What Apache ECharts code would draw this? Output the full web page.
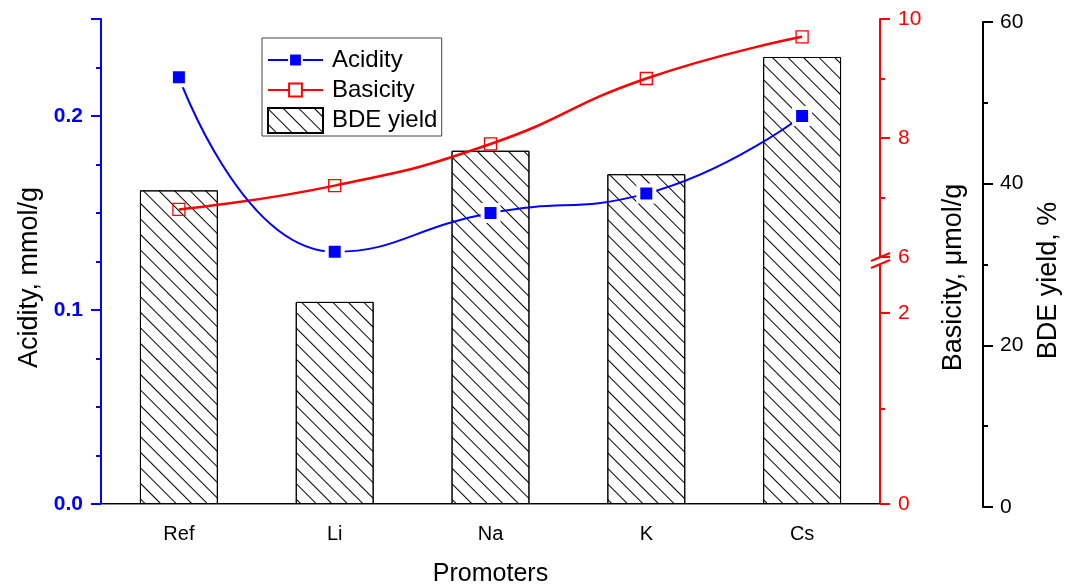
<!DOCTYPE html>
<html><head><meta charset="utf-8">
<script src="https://cdn.jsdelivr.net/npm/echarts@6/dist/echarts.min.js"></script>
<style>html,body{margin:0;padding:0;background:#fff}#c{width:1066px;height:588px}</style>
</head><body><div id="c"></div>
<script>
// ---- data ----
const promoters = ['Ref', 'Li', 'Na', 'K', 'Cs'];
const acidity = [0.22, 0.13, 0.15, 0.16, 0.20];      // mmol/g
const basicity = [6.8, 7.2, 7.9, 9.0, 9.7];          // µmol/g
const bdeYield = [38.8, 25.0, 43.7, 40.8, 55.3];     // %
const acidityAxis = [0, 0.25, 0.1, 0.025];           // min, max, major, minor
const basicityUpper = [6, 10, 2];                    // min, max, interval
const basicityLower = [0, 2, 2];
const bdeAxis = [0, 60, 20];

// ---- layout ----
const L = 101, R = 186, TOP = 19, BOT = 84;
const W = 1066, H = 588;
const yBreakUpper = 257, yBreakLower = 313;
const FONT = 'Liberation Sans, Arial, sans-serif';
const BLUE = '#0000ff', RED = '#ff0000';

const chart = echarts.init(document.getElementById('c'), null, {renderer: 'canvas'});
const noSplit = {show: false};
const hatch = {
  symbol: 'rect', symbolSize: 1, color: '#000',
  dashArrayX: [1, 0], dashArrayY: [1, 9.6], rotation: Math.PI / 4
};
const legendText = {fontSize: 24, color: '#000', fontFamily: FONT, lineHeight: 26, padding: [0, 0, 0, 4]};
const titleText = {fontSize: 27, color: '#000', fontFamily: FONT, padding: [0, 32, 0, 0]};
const gridBase = {left: L, right: R, outerBoundsMode: 'none', containLabel: false};

const option = {
  animation: false,
  backgroundColor: '#fff',
  grid: [
    Object.assign({top: TOP, bottom: BOT}, gridBase),
    Object.assign({top: TOP, height: yBreakUpper - TOP}, gridBase),
    Object.assign({top: yBreakLower, bottom: BOT}, gridBase),
    Object.assign({top: TOP + 3, bottom: BOT - 3}, gridBase)
  ],
  legend: [
    {
      data: [
        {name: 'Acidity', itemStyle: {borderWidth: 2, borderColor: '#fff'}},
        {name: 'Basicity', itemStyle: {color: '#fff'}}
      ],
      orient: 'vertical', left: 262, top: 38, padding: [9, 27, 33, 5],
      itemWidth: 55, itemHeight: 16, itemGap: 4, selectedMode: false,
      textStyle: legendText, borderColor: '#444', borderWidth: 1
    },
    {
      data: [{name: 'BDE yield', icon: 'rect'}],
      orient: 'vertical', left: 267, top: 107, padding: 0,
      itemWidth: 55, itemHeight: 25, selectedMode: false, textStyle: legendText
    }
  ],
  xAxis: [
    {
      gridIndex: 0, type: 'category', data: promoters, position: 'bottom',
      axisLine: {lineStyle: {color: '#000', width: 2}},
      axisTick: {alignWithLabel: true, length: 10, lineStyle: {color: '#000', width: 1.5}},
      axisLabel: {fontSize: 20, color: '#000', fontFamily: FONT, margin: 20},
      name: 'Promoters', nameLocation: 'middle', nameGap: 58,
      nameTextStyle: {fontSize: 25, color: '#000', fontFamily: FONT},
      splitLine: noSplit
    },
    {
      gridIndex: 0, type: 'category', data: promoters, position: 'bottom',
      axisLine: {show: false}, axisLabel: {show: false},
      axisTick: {length: 5, lineStyle: {color: '#000', width: 1.5}}, splitLine: noSplit
    },
    {
      gridIndex: 0, type: 'category', data: promoters, position: 'top',
      axisLine: {lineStyle: {color: '#888', width: 1}},
      axisTick: {show: false}, axisLabel: {show: false}, splitLine: noSplit
    },
    {gridIndex: 1, type: 'category', data: promoters, show: false},
    {gridIndex: 2, type: 'category', data: promoters, show: false},
    {gridIndex: 3, type: 'category', data: promoters, show: false}
  ],
  yAxis: [
    { // 0 acidity
      gridIndex: 0, type: 'value', position: 'left',
      min: acidityAxis[0], max: acidityAxis[1], interval: acidityAxis[2],
      axisLine: {show: true, lineStyle: {color: BLUE, width: 2}},
      axisTick: {show: true, length: 10, lineStyle: {color: BLUE, width: 2}},
      axisLabel: {fontSize: 21, fontWeight: 'bold', color: BLUE, fontFamily: FONT, margin: 18,
        formatter: v => (Math.abs(v * 10 - Math.round(v * 10)) < 1e-6 ? v.toFixed(1) : '')},
      splitLine: noSplit,
      name: 'Acidity, mmol/g', nameLocation: 'middle', nameGap: 56, nameTextStyle: titleText
    },
    { // 1 acidity minor ticks
      gridIndex: 0, type: 'value', position: 'left',
      min: acidityAxis[0], max: acidityAxis[1], interval: acidityAxis[3],
      axisLine: {show: false}, axisLabel: {show: false},
      axisTick: {show: true, length: 5, lineStyle: {color: BLUE, width: 2}}, splitLine: noSplit
    },
    { // 2 basicity axis line + name
      gridIndex: 0, type: 'value', position: 'right', min: 0, max: 1,
      axisLine: {show: true, lineStyle: {color: RED, width: 2}},
      axisTick: {show: false}, axisLabel: {show: false}, splitLine: noSplit,
      name: 'Basicity, \u03bcmol/g', nameLocation: 'middle', nameGap: 60, nameTextStyle: titleText
    },
    { // 3 BDE yield scale for the bars (same range as the visible BDE axis)
      gridIndex: 0, type: 'value', position: 'right', show: false,
      min: bdeAxis[0], max: bdeAxis[1], interval: bdeAxis[2], splitLine: noSplit
    },
    { // 4 basicity upper segment
      gridIndex: 1, type: 'value', position: 'right',
      min: basicityUpper[0], max: basicityUpper[1], interval: basicityUpper[2],
      axisLine: {show: false},
      axisTick: {show: true, length: 10, lineStyle: {color: RED, width: 2}},
      minorTick: {show: true, splitNumber: 2, length: 5, lineStyle: {color: RED, width: 2}},
      axisLabel: {fontSize: 21, color: RED, fontFamily: FONT, margin: 18},
      splitLine: noSplit
    },
    { // 5 basicity lower segment
      gridIndex: 2, type: 'value', position: 'right',
      min: basicityLower[0], max: basicityLower[1], interval: basicityLower[2],
      axisLine: {show: false},
      axisTick: {show: true, length: 10, lineStyle: {color: RED, width: 2}},
      minorTick: {show: true, splitNumber: 2, length: 5, lineStyle: {color: RED, width: 2}},
      axisLabel: {fontSize: 21, color: RED, fontFamily: FONT, margin: 18},
      splitLine: noSplit
    },
    { // 6 visible BDE yield axis
      gridIndex: 3, type: 'value', position: 'right', offset: 103,
      min: bdeAxis[0], max: bdeAxis[1], interval: bdeAxis[2],
      axisLine: {show: true, lineStyle: {color: '#000', width: 2}},
      axisTick: {show: true, length: 10, lineStyle: {color: '#000', width: 2}},
      minorTick: {show: true, splitNumber: 2, length: 5, lineStyle: {color: '#000', width: 2}},
      axisLabel: {fontSize: 21, color: '#000', fontFamily: FONT, margin: 17},
      splitLine: noSplit,
      name: 'BDE yield, %', nameLocation: 'middle', nameGap: 52, nameTextStyle: titleText
    }
  ],
  series: [
    {
      name: 'BDE yield', type: 'bar', xAxisIndex: 0, yAxisIndex: 3, data: bdeYield,
      barWidth: '50%', z: 1,
      itemStyle: {color: '#fff', borderColor: '#000', borderWidth: 1, decal: hatch}
    },
    {
      name: 'Acidity', type: 'line', xAxisIndex: 0, yAxisIndex: 0, data: acidity,
      smooth: true, symbol: 'rect', symbolSize: 16, z: 5,
      lineStyle: {color: BLUE, width: 2},
      itemStyle: {color: BLUE, borderColor: '#fff', borderWidth: 4}
    },
    {
      name: 'Basicity', type: 'line', xAxisIndex: 3, yAxisIndex: 4, data: basicity,
      smooth: true, symbol: 'rect', symbolSize: 12, z: 4,
      lineStyle: {color: RED, width: 2.5},
      itemStyle: {color: 'rgba(255,255,255,0)', borderColor: RED, borderWidth: 1.3}
    }
  ]
};
chart.setOption(option);

// axis-break marks on the basicity axis
const xr = W - R;
chart.setOption({
  graphic: [
    {type: 'line', shape: {x1: xr, y1: yBreakUpper + 1, x2: xr, y2: yBreakUpper + 7},
     style: {stroke: '#fff', lineWidth: 3}, z: 100},
    {type: 'line', shape: {x1: xr - 9, y1: yBreakUpper + 4, x2: xr + 10, y2: yBreakUpper - 4},
     style: {stroke: RED, lineWidth: 2}, z: 101},
    {type: 'line', shape: {x1: xr - 9, y1: yBreakUpper + 11, x2: xr + 10, y2: yBreakUpper + 3},
     style: {stroke: RED, lineWidth: 2}, z: 101}
  ]
});
</script></body></html>
